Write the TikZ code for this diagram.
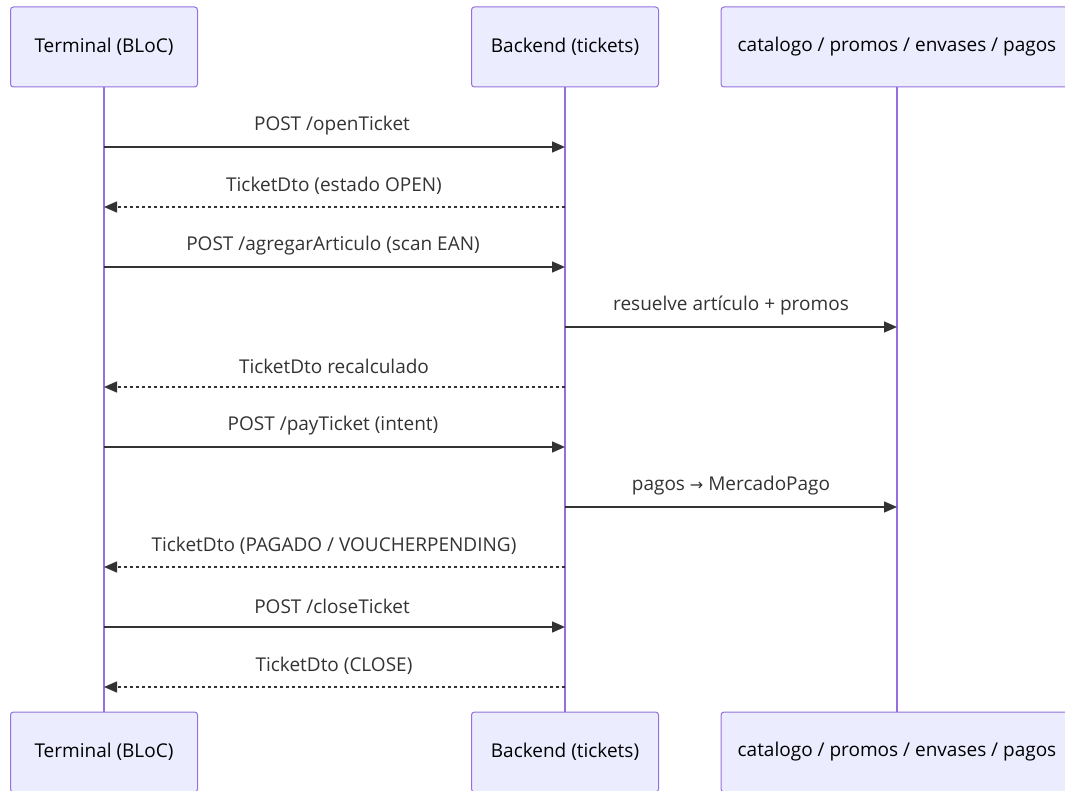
\documentclass[tikz,border=0pt]{standalone}
\usepackage{fontspec}
\setmainfont{Open Sans}
\newfontfamily\symfont{DejaVu Sans}
\usetikzlibrary{arrows.meta}
\definecolor{actfill}{HTML}{ECECFF}
\definecolor{actline}{HTML}{9370DB}
\definecolor{msg}{HTML}{333333}
\tikzset{
  actor/.style={draw=actline, fill=actfill, line width=1pt, rounded corners=3pt,
    minimum width=187pt, minimum height=80pt, inner sep=0pt, font=\fontsize{19}{22}\selectfont, text=black},
  lifeline/.style={draw=actline, line width=1.6pt},
  sync/.style={draw=msg, line width=1.5pt, -{Triangle[length=13pt,width=11pt]}},
  reply/.style={sync, dash pattern=on 3pt off 3pt},
  lbl/.style={font=\fontsize{19}{22}\selectfont, text=msg, inner sep=0pt}
}
\begin{document}
\begin{tikzpicture}[x=1pt,y=-1pt]
\useasboundingbox (0,0) rectangle (1065,791);
\clip (0,0) rectangle (1065,791);
% actors
\node[actor] (a1) at (104,47) {Terminal (BLoC)};
\node[actor] (a2) at (565,47) {Backend (tickets)};
\node[actor, minimum width=352pt] (a3) at (897,47) {catalogo / promos / envases / pagos};
\node[actor] (b1) at (104,752) {Terminal (BLoC)};
\node[actor] (b2) at (565,752) {Backend (tickets)};
\node[actor, minimum width=352pt] (b3) at (897,752) {catalogo / promos / envases / pagos};
% lifelines
\draw[lifeline] (a1.south) -- (b1.north);
\draw[lifeline] (a2.south) -- (b2.north);
\draw[lifeline] (a3.south) -- (b3.north);
% message endpoints
\foreach \i/\y in {1/147,2/207,3/267,4/327,5/387,6/447,7/507,8/567,9/627,10/687}{
  \coordinate (t\i) at (104,\y);
  \coordinate (k\i) at (565,\y);
  \coordinate (s\i) at (897,\y);
}
\draw[sync] (t1) -- (k1);
\node[lbl] (l1) at (332,126) {POST /openTicket};
\draw[reply] (k2) -- (t2);
\node[lbl] (l2) at (334,186) {TicketDto (estado OPEN)};
\draw[sync] (t3) -- (k3);
\node[lbl] (l3) at (333,246) {POST /agregarArticulo (scan EAN)};
\draw[sync] (k4) -- (s4);
\node[lbl] (l4) at (731,306) {resuelve artículo + promos};
\draw[reply] (k5) -- (t5);
\node[lbl] (l5) at (334,366) {TicketDto recalculado};
\draw[sync] (t6) -- (k6);
\node[lbl] (l6) at (333,426) {POST /payTicket (intent)};
\draw[sync] (k7) -- (s7);
\node[lbl] (l7) at (731,486) {pagos {\symfont\fontsize{16}{19}\selectfont →} MercadoPago};
\draw[reply] (k8) -- (t8);
\node[lbl] (l8) at (334,546) {TicketDto (PAGADO / VOUCHERPENDING)};
\draw[sync] (t9) -- (k9);
\node[lbl] (l9) at (332,606) {POST /closeTicket};
\draw[reply] (k10) -- (t10);
\node[lbl] (l10) at (334,666) {TicketDto (CLOSE)};
\end{tikzpicture}
\end{document}
